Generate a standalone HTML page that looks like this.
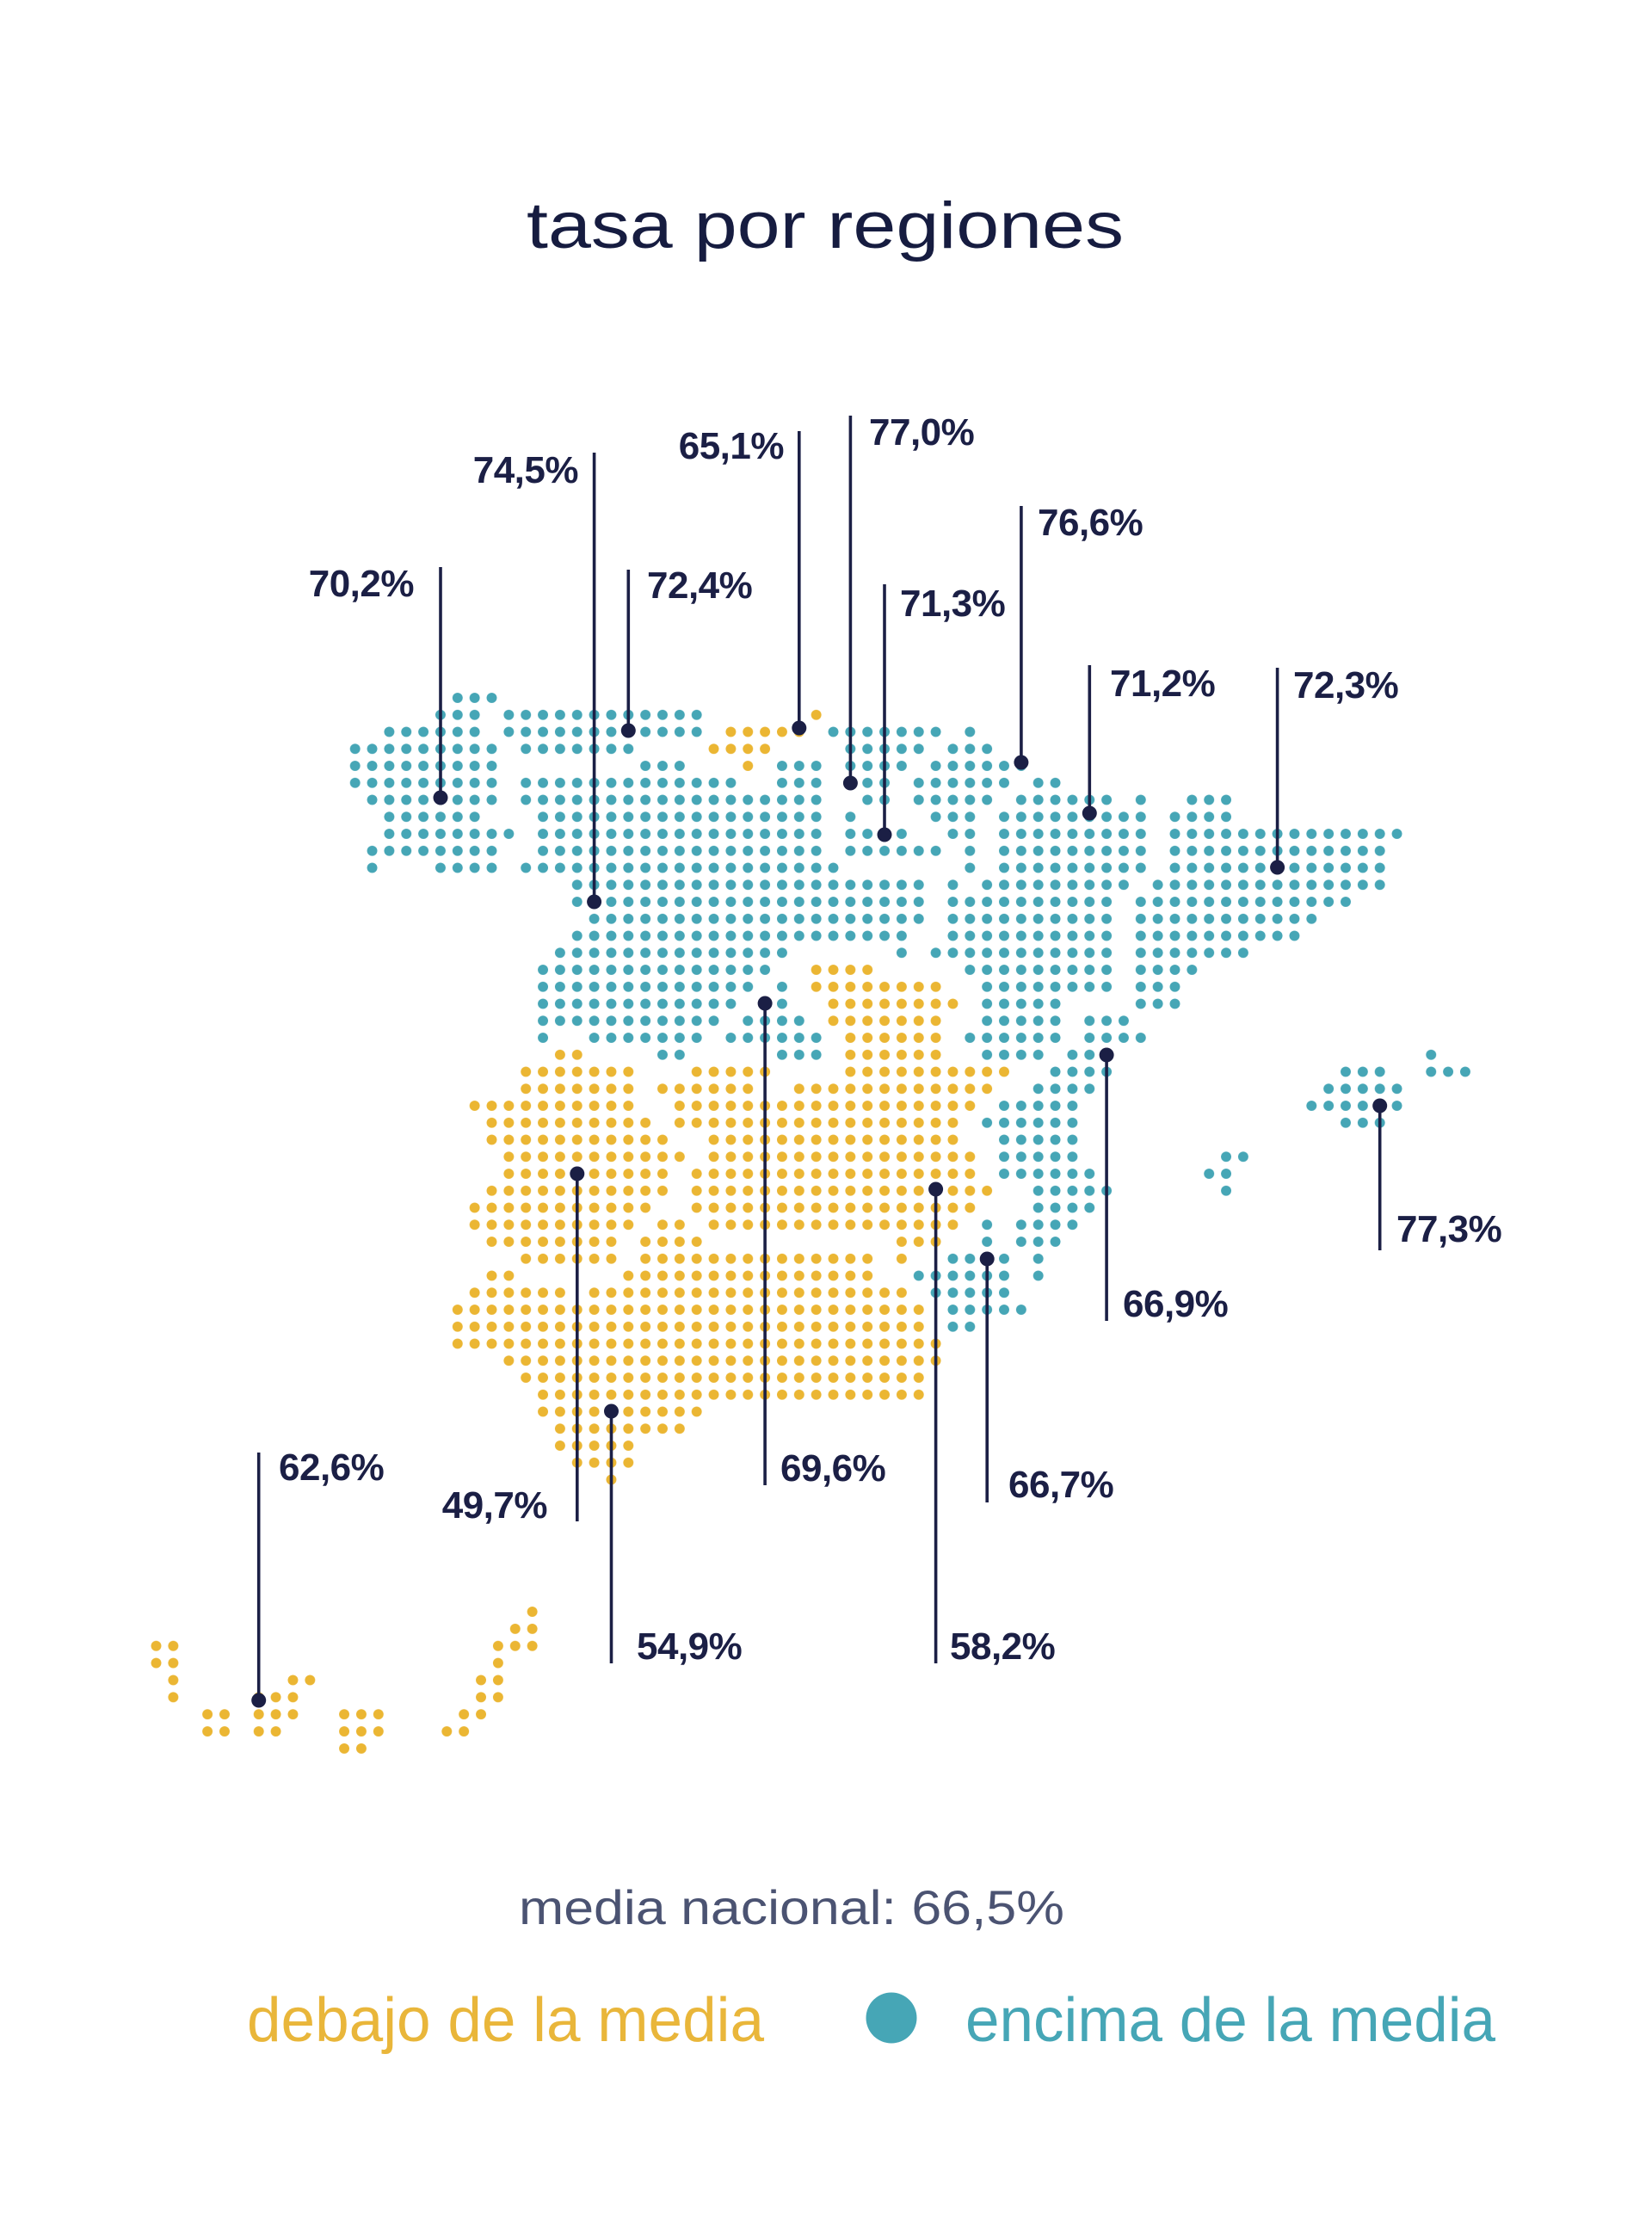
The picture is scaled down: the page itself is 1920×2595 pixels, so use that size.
<!DOCTYPE html>
<html>
<head>
<meta charset="utf-8">
<style>
html,body{margin:0;padding:0;background:#ffffff;}
svg{display:block;}
.lbl{font-family:"Liberation Sans",Arial,sans-serif;font-weight:bold;font-size:44px;fill:#1b1f45;letter-spacing:-0.5px;}
</style>
</head>
<body>
<svg width="1920" height="2595" viewBox="0 0 1920 2595" xmlns="http://www.w3.org/2000/svg">
<defs>
<pattern id="pt" patternUnits="userSpaceOnUse" x="-0.5" y="-0.5" width="1" height="1"><circle cx="0.5" cy="0.5" r="0.3" fill="#46a6b6"/></pattern>
<pattern id="py" patternUnits="userSpaceOnUse" x="-0.5" y="-0.5" width="1" height="1"><circle cx="0.5" cy="0.5" r="0.3" fill="#ebb633"/></pattern>
</defs>
<rect x="0" y="0" width="1920" height="2595" fill="#ffffff"/>

<!-- Title -->
<text x="612" y="288" font-family="Liberation Sans, Arial, sans-serif" font-size="76" fill="#161c40" textLength="694" lengthAdjust="spacingAndGlyphs">tasa por regiones</text>

<!-- Mainland + Balearics grid -->
<g transform="translate(412.7 811) scale(19.85 19.75)">
<path fill="url(#pt)" d="
M5.5-.5h3v1h-3z
M4.5 .5h3v1h-3z M8.5 .5h12v1h-12z
M1.5 1.5h6v1h-6z M8.5 1.5h12v1h-12z M27.5 1.5h7v1h-7z M35.5 1.5h1v1h-1z
M-.5 2.5h9v1h-9z M9.5 2.5h7v1h-7z M28.5 2.5h5v1h-5z M34.5 2.5h3v1h-3z
M-.5 3.5h9v1h-9z M16.5 3.5h3v1h-3z M24.5 3.5h3v1h-3z M28.5 3.5h4v1h-4z M33.5 3.5h6v1h-6z
M-.5 4.5h9v1h-9z M9.5 4.5h13v1h-13z M24.5 4.5h3v1h-3z M28.5 4.5h3v1h-3z M32.5 4.5h6v1h-6z M39.5 4.5h2v1h-2z
M.5 5.5h8v1h-8z M9.5 5.5h18v1h-18z M29.5 5.5h2v1h-2z M32.5 5.5h5v1h-5z M38.5 5.5h6v1h-6z M45.5 5.5h1v1h-1z M48.5 5.5h3v1h-3z
M1.5 6.5h6v1h-6z M10.5 6.5h17v1h-17z M28.5 6.5h1v1h-1z M33.5 6.5h3v1h-3z M37.5 6.5h9v1h-9z M47.5 6.5h4v1h-4z
M1.5 7.5h8v1h-8z M10.5 7.5h17v1h-17z M28.5 7.5h4v1h-4z M34.5 7.5h2v1h-2z M37.5 7.5h9v1h-9z M47.5 7.5h14v1h-14z
M.5 8.5h8v1h-8z M10.5 8.5h17v1h-17z M28.5 8.5h6v1h-6z M35.5 8.5h1v1h-1z M37.5 8.5h9v1h-9z M47.5 8.5h13v1h-13z
M.5 9.5h1v1h-1z M4.5 9.5h4v1h-4z M9.5 9.5h19v1h-19z M35.5 9.5h1v1h-1z M37.5 9.5h9v1h-9z M47.5 9.5h13v1h-13z
M12.5 10.5h21v1h-21z M34.5 10.5h1v1h-1z M36.5 10.5h9v1h-9z M46.5 10.5h14v1h-14z
M12.5 11.5h21v1h-21z M34.5 11.5h10v1h-10z M45.5 11.5h13v1h-13z
M13.5 12.5h20v1h-20z M34.5 12.5h10v1h-10z M45.5 12.5h11v1h-11z
M12.5 13.5h20v1h-20z M34.5 13.5h10v1h-10z M45.5 13.5h10v1h-10z
M11.5 14.5h14v1h-14z M31.5 14.5h1v1h-1z M33.5 14.5h11v1h-11z M45.5 14.5h7v1h-7z
M10.5 15.5h14v1h-14z M35.5 15.5h9v1h-9z M45.5 15.5h4v1h-4z
M10.5 16.5h13v1h-13z M24.5 16.5h1v1h-1z M36.5 16.5h8v1h-8z M45.5 16.5h3v1h-3z
M10.5 17.5h12v1h-12z M23.5 17.5h2v1h-2z M36.5 17.5h5v1h-5z M45.5 17.5h3v1h-3z
M10.5 18.5h11v1h-11z M22.5 18.5h4v1h-4z M36.5 18.5h5v1h-5z M42.5 18.5h3v1h-3z
M10.5 19.5h1v1h-1z M13.5 19.5h7v1h-7z M21.5 19.5h6v1h-6z M35.5 19.5h6v1h-6z M42.5 19.5h4v1h-4z
M17.5 20.5h2v1h-2z M24.5 20.5h3v1h-3z M36.5 20.5h4v1h-4z M41.5 20.5h3v1h-3z M62.5 20.5h1v1h-1z
M40.5 21.5h4v1h-4z M57.5 21.5h3v1h-3z M62.5 21.5h3v1h-3z
M39.5 22.5h4v1h-4z M56.5 22.5h5v1h-5z
M37.5 23.5h5v1h-5z M55.5 23.5h6v1h-6z
M36.5 24.5h6v1h-6z M57.5 24.5h3v1h-3z
M37.5 25.5h5v1h-5z
M37.5 26.5h5v1h-5z M50.5 26.5h2v1h-2z
M37.5 27.5h6v1h-6z M49.5 27.5h2v1h-2z
M39.5 28.5h5v1h-5z M50.5 28.5h1v1h-1z
M39.5 29.5h4v1h-4z
M36.5 30.5h1v1h-1z M38.5 30.5h4v1h-4z
M36.5 31.5h1v1h-1z M38.5 31.5h3v1h-3z
M34.5 32.5h4v1h-4z M39.5 32.5h1v1h-1z
M32.5 33.5h6v1h-6z M39.5 33.5h1v1h-1z
M33.5 34.5h5v1h-5z
M34.5 35.5h5v1h-5z
M34.5 36.5h2v1h-2z
"/>
<path fill="url(#py)" d="
M26.5 .5h1v1h-1z
M21.5 1.5h5v1h-5z
M20.5 2.5h4v1h-4z
M22.5 3.5h1v1h-1z
M26.5 15.5h4v1h-4z
M26.5 16.5h8v1h-8z
M27.5 17.5h8v1h-8z
M27.5 18.5h7v1h-7z
M28.5 19.5h6v1h-6z
M11.5 20.5h2v1h-2z M28.5 20.5h6v1h-6z
M9.5 21.5h7v1h-7z M19.5 21.5h5v1h-5z M28.5 21.5h10v1h-10z
M9.5 22.5h7v1h-7z M17.5 22.5h6v1h-6z M25.5 22.5h12v1h-12z
M6.5 23.5h10v1h-10z M18.5 23.5h18v1h-18z
M7.5 24.5h10v1h-10z M18.5 24.5h17v1h-17z
M7.5 25.5h11v1h-11z M20.5 25.5h15v1h-15z
M8.5 26.5h11v1h-11z M20.5 26.5h16v1h-16z
M8.5 27.5h10v1h-10z M19.5 27.5h17v1h-17z
M7.5 28.5h11v1h-11z M19.5 28.5h18v1h-18z
M6.5 29.5h11v1h-11z M19.5 29.5h17v1h-17z
M6.5 30.5h10v1h-10z M17.5 30.5h2v1h-2z M20.5 30.5h15v1h-15z
M7.5 31.5h8v1h-8z M16.5 31.5h4v1h-4z M31.5 31.5h3v1h-3z
M9.5 32.5h6v1h-6z M16.5 32.5h14v1h-14z M31.5 32.5h1v1h-1z
M7.5 33.5h2v1h-2z M15.5 33.5h15v1h-15z
M6.5 34.5h6v1h-6z M13.5 34.5h19v1h-19z
M5.5 35.5h28v1h-28z
M5.5 36.5h28v1h-28z
M5.5 37.5h29v1h-29z
M8.5 38.5h26v1h-26z
M9.5 39.5h24v1h-24z
M10.5 40.5h23v1h-23z
M10.5 41.5h10v1h-10z
M11.5 42.5h8v1h-8z
M11.5 43.5h5v1h-5z
M12.5 44.5h4v1h-4z
M14.5 45.5h1v1h-1z
"/>
</g>

<!-- Canary Islands -->
<g transform="translate(181.5 1873) scale(19.87 19.87)">
<path fill="url(#py)" d="
M21.5-.5h1v1h-1z
M20.5 .5h2v1h-2z
M-.5 1.5h2v1h-2z M19.5 1.5h3v1h-3z
M-.5 2.5h2v1h-2z M19.5 2.5h1v1h-1z
M.5 3.5h1v1h-1z M7.5 3.5h2v1h-2z M18.5 3.5h2v1h-2z
M.5 4.5h1v1h-1z M5.5 4.5h3v1h-3z M18.5 4.5h2v1h-2z
M2.5 5.5h2v1h-2z M5.5 5.5h3v1h-3z M10.5 5.5h3v1h-3z M17.5 5.5h2v1h-2z
M2.5 6.5h2v1h-2z M5.5 6.5h2v1h-2z M10.5 6.5h3v1h-3z M16.5 6.5h2v1h-2z
M10.5 7.5h2v1h-2z
"/>
</g>

<!-- Leader lines -->
<g stroke="#1b1f45" stroke-width="3.6" fill="none">
<line x1="512" y1="659" x2="512" y2="927"/>
<line x1="690.6" y1="526" x2="690.6" y2="1048"/>
<line x1="730.3" y1="662" x2="730.3" y2="849"/>
<line x1="928.8" y1="501" x2="928.8" y2="846"/>
<line x1="988.4" y1="483" x2="988.4" y2="910"/>
<line x1="1028" y1="679" x2="1028" y2="970"/>
<line x1="1186.9" y1="588" x2="1186.9" y2="886"/>
<line x1="1266.3" y1="773" x2="1266.3" y2="945"/>
<line x1="1484.6" y1="776" x2="1484.6" y2="1008"/>
<line x1="1603.7" y1="1285" x2="1603.7" y2="1453"/>
<line x1="1286.1" y1="1226" x2="1286.1" y2="1535"/>
<line x1="1147.2" y1="1463" x2="1147.2" y2="1746"/>
<line x1="1087.6" y1="1382" x2="1087.6" y2="1933"/>
<line x1="889.1" y1="1166" x2="889.1" y2="1726"/>
<line x1="710.5" y1="1640" x2="710.5" y2="1933"/>
<line x1="670.8" y1="1364" x2="670.8" y2="1768"/>
<line x1="300.7" y1="1688" x2="300.7" y2="1976"/>
</g>

<!-- Markers -->
<g fill="#1b1f45">
<circle cx="512" cy="927" r="8.5"/>
<circle cx="690.6" cy="1048" r="8.5"/>
<circle cx="730.3" cy="849" r="8.5"/>
<circle cx="928.8" cy="846" r="8.5"/>
<circle cx="988.4" cy="910" r="8.5"/>
<circle cx="1028" cy="970" r="8.5"/>
<circle cx="1186.9" cy="886" r="8.5"/>
<circle cx="1266.3" cy="945" r="8.5"/>
<circle cx="1484.6" cy="1008" r="8.5"/>
<circle cx="1603.7" cy="1285" r="8.5"/>
<circle cx="1286.1" cy="1226" r="8.5"/>
<circle cx="1147.2" cy="1463" r="8.5"/>
<circle cx="1087.6" cy="1382" r="8.5"/>
<circle cx="889.1" cy="1166" r="8.5"/>
<circle cx="710.5" cy="1640" r="8.5"/>
<circle cx="670.8" cy="1364" r="8.5"/>
<circle cx="300.7" cy="1976" r="8.5"/>
</g>

<!-- Value labels -->
<text class="lbl" x="481" y="693" text-anchor="end">70,2%</text>
<text class="lbl" x="672" y="561" text-anchor="end">74,5%</text>
<text class="lbl" x="752" y="695">72,4%</text>
<text class="lbl" x="911" y="533" text-anchor="end">65,1%</text>
<text class="lbl" x="1010" y="517">77,0%</text>
<text class="lbl" x="1046" y="716">71,3%</text>
<text class="lbl" x="1206" y="622">76,6%</text>
<text class="lbl" x="1290" y="809">71,2%</text>
<text class="lbl" x="1503" y="811">72,3%</text>
<text class="lbl" x="1623" y="1443">77,3%</text>
<text class="lbl" x="1305" y="1530">66,9%</text>
<text class="lbl" x="1172" y="1740">66,7%</text>
<text class="lbl" x="1104" y="1928">58,2%</text>
<text class="lbl" x="907" y="1721">69,6%</text>
<text class="lbl" x="740" y="1928">54,9%</text>
<text class="lbl" x="636" y="1764" text-anchor="end">49,7%</text>
<text class="lbl" x="324" y="1720">62,6%</text>

<!-- Legend -->
<text x="603" y="2236" font-family="Liberation Sans, Arial, sans-serif" font-size="56" fill="#4b5372" textLength="634" lengthAdjust="spacingAndGlyphs">media nacional: 66,5%</text>
<text x="287" y="2372" font-family="Liberation Sans, Arial, sans-serif" font-size="72" fill="#e9b63a" textLength="601" lengthAdjust="spacingAndGlyphs">debajo de la media</text>
<circle cx="1036" cy="2345" r="29.5" fill="#46a6b6"/>
<text x="1122" y="2372" font-family="Liberation Sans, Arial, sans-serif" font-size="72" fill="#46a6b6" textLength="616" lengthAdjust="spacingAndGlyphs">encima de la media</text>
</svg>
</body>
</html>
